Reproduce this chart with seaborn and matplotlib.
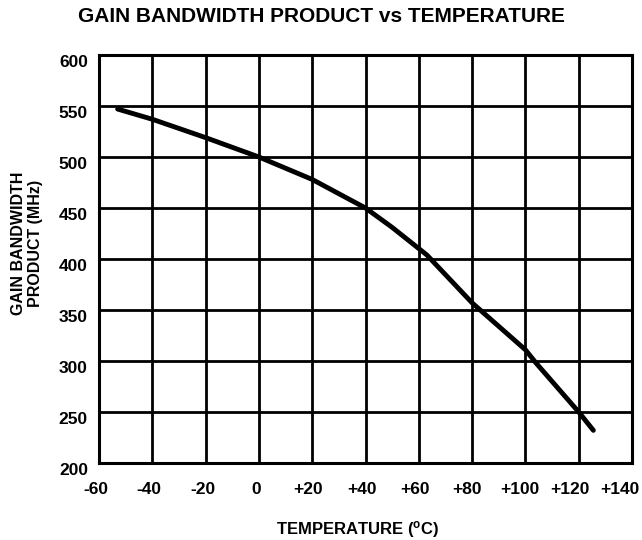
import numpy as np
import pandas as pd
import matplotlib
matplotlib.use("Agg")
import matplotlib.pyplot as plt
import matplotlib.transforms as mtransforms
import seaborn as sns

# values
temperature = [-53, -40, -20, 0, 20, 40, 50, 63, 80, 100, 104, 120, 125.5]
gbw_mhz = [547, 537, 519, 500, 478, 450, 431, 404, 357, 311, 298, 250, 232]

x_ticks = [-60, -40, -20, 0, 20, 40, 60, 80, 100, 120, 140]
x_labels = ["-60", "-40", "-20", "0", "+20", "+40", "+60", "+80", "+100", "+120", "+140"]
y_ticks = [200, 250, 300, 350, 400, 450, 500, 550, 600]

# small horizontal nudges (px) of the x tick labels, as in the scan
x_label_shift = [-3, -3, -3, -3, -4, -4, -4, -5, -6, -9, -12]

sns.set_style("white")
plt.rcParams["font.family"] = ["Liberation Sans", "DejaVu Sans"]
plt.rcParams["font.weight"] = "bold"
plt.rcParams["text.color"] = "black"
plt.rcParams["mathtext.fontset"] = "custom"
plt.rcParams["mathtext.rm"] = "Liberation Sans:bold"
plt.rcParams["mathtext.bf"] = "Liberation Sans:bold"
plt.rcParams["mathtext.default"] = "bf"

df = pd.DataFrame({"temp": temperature, "gbw": gbw_mhz})

fig = plt.figure(figsize=(6.42, 5.4), dpi=100)
ax = fig.add_axes([99 / 642, 1 - 463 / 540, 533 / 642, 408 / 540])

sns.lineplot(data=df, x="temp", y="gbw", color="black", linewidth=3.5, ax=ax, zorder=3)

ax.set_xlim(-60, 140)
ax.set_ylim(200, 600)
ax.set_xticks(x_ticks)
ax.set_xticklabels(x_labels)
ax.set_yticks(y_ticks)
ax.grid(True, color="black", linewidth=2.0)
ax.tick_params(length=0, labelsize=12.5, colors="black")
ax.tick_params(axis="x", pad=14)
ax.tick_params(axis="y", pad=8)
for lbl, dx in zip(ax.get_xticklabels(), x_label_shift):
    lbl.set_fontweight("bold")
    lbl.set_transform(lbl.get_transform() + mtransforms.ScaledTranslation(dx / 100, 0, fig.dpi_scale_trans))
for lbl in ax.get_yticklabels():
    lbl.set_fontweight("bold")
    lbl.set_transform(lbl.get_transform() + mtransforms.ScaledTranslation(0, -6 / 100, fig.dpi_scale_trans))
for s in ax.spines.values():
    s.set_color("black")
    s.set_linewidth(2.2)

ax.set_xlabel("")
ax.set_ylabel("")
fig.text(358 / 642, 1 - 529 / 540, "TEMPERATURE ($^{o}$C)", ha="center", va="center",
         fontsize=12, fontweight="bold")
fig.text(27 / 642, 1 - 243 / 540, "GAIN BANDWIDTH\nPRODUCT (MHz)", ha="center", va="center",
         rotation=90, fontsize=11.5, fontweight="bold", linespacing=1.2, multialignment="center")
fig.text(321 / 642, 1 - 17 / 540, "GAIN BANDWIDTH PRODUCT vs TEMPERATURE", ha="center", va="center",
         fontsize=15, fontweight="bold")

fig.savefig("out.png", dpi=100)
